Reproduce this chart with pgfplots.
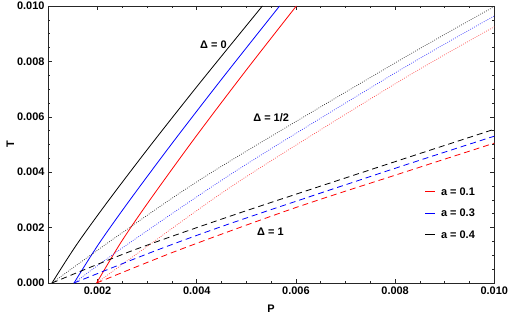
\documentclass[border=0pt]{standalone}
\usepackage{fontspec}
\setmainfont{Liberation Sans}
\usepackage{pgfplots}
\pgfplotsset{compat=1.18}
\begin{document}
\begin{tikzpicture}
\useasboundingbox (-48bp,-32bp) rectangle (462bp,283bp);
\begin{axis}[
  anchor=south west, at={(0,0)},
  scale only axis, width=446.3bp, height=277bp,
  xmin=0.001, xmax=0.010, ymin=0, ymax=0.010,
  xtick={0.002,0.004,0.006,0.008,0.010},
  ytick={0,0.002,0.004,0.006,0.008,0.010},
  minor x tick num=3, minor y tick num=3,
  tick align=inside,
  major tick length=4bp, minor tick length=2.5bp,
  scaled ticks=false,
  /pgf/number format/.cd, fixed, fixed zerofill, precision=3, assume math mode=true,
  /pgfplots/.cd,
  tick label style={font=\fontsize{11}{13}\selectfont\bfseries},
  label style={font=\fontsize{11}{13}\selectfont\bfseries},
  xlabel={P}, ylabel={T},
  xlabel style={yshift=-4bp},
  ylabel style={yshift=-4bp},
  axis line style={line width=0.8pt, black!85},
  every tick/.style={black!85, line width=0.6pt},
  legend style={draw=none, fill=none, at={(axis description cs:0.840,0.352)}, anchor=north west,
    font=\fontsize{11}{13}\selectfont\bfseries, row sep=8.5bp, inner sep=0pt},
  legend cell align=left,
  legend image code/.code={},
]
% Delta = 0 (solid)
\addplot[forget plot, red, line width=0.8pt, smooth] coordinates {(0.00198,0) (0.00248,0.001492) (0.003054,0.002996) (0.00398,0.005282) (0.00498,0.007645) (0.006008,0.0100)};
\addplot[forget plot, blue, line width=0.8pt, smooth] coordinates {(0.001524,0) (0.002024,0.001413) (0.002651,0.002996) (0.003524,0.005093) (0.004524,0.007411) (0.00567,0.0100)};
\addplot[forget plot, black, line width=0.8pt, smooth] coordinates {(0.00108,0) (0.00158,0.001392) (0.002228,0.002996) (0.00308,0.004998) (0.00408,0.007263) (0.005323,0.0100)};
% Delta = 1/2 (dotted)
\addplot[forget plot, red!70, line width=0.7pt, dash pattern=on 0.8bp off 1.4bp, smooth] coordinates {(0.00198,0) (0.0029,0.00119) (0.00488,0.0037) (0.0081,0.0073) (0.010,0.00925)};
\addplot[forget plot, blue!80, line width=0.7pt, dash pattern=on 0.8bp off 1.4bp, smooth] coordinates {(0.001524,0) (0.002565,0.00135) (0.00488,0.00415) (0.0081,0.00769) (0.010,0.00964)};
\addplot[forget plot, black!80, line width=0.7pt, dash pattern=on 0.8bp off 1.4bp, smooth] coordinates {(0.00108,0) (0.0025,0.00182) (0.004377,0.004079) (0.0081,0.00805) (0.010,0.00998)};
% Delta = 1 (dashed)
\addplot[forget plot, red, line width=0.8pt, dash pattern=on 6bp off 4bp, smooth] coordinates {(0.00198,0) (0.003638,0.00119) (0.005954,0.002697) (0.0081,0.00395) (0.010,0.00505)};
\addplot[forget plot, blue, line width=0.8pt, dash pattern=on 6bp off 4bp, smooth] coordinates {(0.001524,0) (0.003203,0.00119) (0.00488,0.002274) (0.0081,0.0042) (0.010,0.0053)};
\addplot[forget plot, black, line width=0.8pt, dash pattern=on 6bp off 4bp, smooth] coordinates {(0.00108,0) (0.002732,0.00119) (0.00488,0.002538) (0.0081,0.00444) (0.010,0.00555)};
\addlegendimage{empty legend}
\addlegendentry{\textcolor{red}{\rule[3.3bp]{10bp}{1bp}}\hspace{6bp}a = 0.1}
\addlegendimage{empty legend}
\addlegendentry{\textcolor{blue}{\rule[3.3bp]{10bp}{1bp}}\hspace{6bp}a = 0.3}
\addlegendimage{empty legend}
\addlegendentry{\textcolor{black}{\rule[3.3bp]{10bp}{1bp}}\hspace{6bp}a = 0.4}
\node[font=\fontsize{11}{13}\selectfont\bfseries] at (axis cs:0.004337,0.00859) {Δ = 0};
\node[font=\fontsize{11}{13}\selectfont\bfseries] at (axis cs:0.0055,0.00598) {Δ = 1/2};
\node[font=\fontsize{11}{13}\selectfont\bfseries] at (axis cs:0.005485,0.00185) {Δ = 1};
\end{axis}
\end{tikzpicture}
\end{document}
